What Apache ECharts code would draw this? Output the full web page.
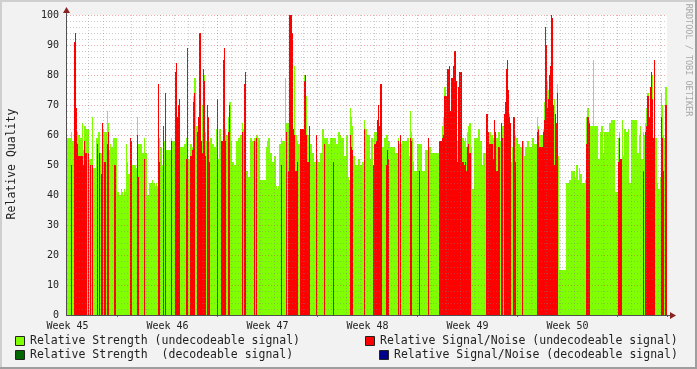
<!DOCTYPE html>
<html><head><meta charset="utf-8">
<script src="https://cdn.jsdelivr.net/npm/echarts@6/dist/echarts.min.js"></script>
<style>html,body{margin:0;padding:0;background:#f2f2f2}#c{width:697px;height:369px}</style>
</head><body><div id="c"></div>
<script>
// Week labels (one every 100 samples)
const weekLabels = ['Week 45','Week 46','Week 47','Week 48','Week 49','Week 50'];

// Relative Strength (undecodeable signal) - one value per sample
const strength = [
59,59,59,59,61,58,58,61,61,61, 61,60,60,59,59,64,55,63,63,62,
62,62,52,52,52,66,49,49,49,59, 59,61,61,54,54,62,62,61,61,61,
68,64,55,57,56,56,59,59,59,59, 41,41,40,40,42,41,40,42,41,57,
51,47,47,59,58,50,50,50,50,49, 66,57,57,57,57,54,54,59,54,54,
40,40,44,44,44,45,44,44,43,44, 43,44,59,56,56,50,50,58,58,55,
55,55,55,55,59,58,58,58,58,58, 58,58,58,56,56,56,56,57,57,59,
59,52,52,57,57,56,73,79,79,63, 63,63,63,63,58,70,70,80,61,58,
58,58,58,59,59,57,57,56,56,62, 62,52,62,62,52,52,52,52,62,60,
60,66,71,71,58,51,51,50,50,58, 58,59,59,60,60,64,62,62,62,48,
48,46,46,59,59,58,58,59,59,60, 60,59,59,45,45,45,45,45,45,56,
58,59,59,54,54,51,51,53,53,43, 42,43,57,57,59,58,58,58,79,64,
64,64,0,0,0,0,0,83,60,60, 58,57,57,57,57,0,0,80,73,73,
60,60,57,57,57,54,54,51,51,51, 52,51,51,54,54,62,62,59,59,59,
59,57,57,59,59,59,59,59,59,57, 57,61,61,60,59,59,59,53,53,60,
60,46,45,69,66,63,53,53,50,50, 50,52,52,50,50,51,51,65,62,62,
60,60,60,52,59,59,50,61,61,61, 61,61,61,61,61,56,56,59,59,60,
60,58,58,56,56,56,56,56,54,54, 54,59,57,57,57,58,58,58,58,58,
59,59,53,68,61,59,51,48,48,48, 57,57,57,57,57,48,48,48,55,55,
55,55,56,56,54,54,54,54,54,54, 54,54,0,0,0,63,66,76,76,0,
0,0,73,0,0,0,0,0,0,0, 58,0,0,0,0,59,59,58,59,56,
61,63,64,64,56,42,42,59,59,59, 59,62,62,58,58,50,54,54,54,0,
0,0,61,61,60,60,59,62,0,59, 59,61,61,58,58,63,63,0,0,0,
0,0,67,0,51,56,56,0,60,59, 59,57,57,56,56,58,58,53,56,56,
58,58,56,56,56,59,59,57,57,57, 66,63,60,60,60,60,62,71,0,0,
78,75,0,0,0,0,0,72,66,0, 77,53,15,15,15,15,15,15,15,44,
44,44,45,45,48,48,48,48,46,50, 50,45,49,47,47,44,44,44,45,66,
69,69,65,63,63,63,85,63,63,63, 63,52,52,61,63,63,54,61,61,61,
61,61,64,64,65,65,65,65,41,41, 41,59,61,0,0,65,53,62,62,61,
61,62,44,44,65,65,65,65,65,65, 54,54,60,63,52,52,61,60,64,69,
74,74,0,76,80,80,59,59,59,59, 44,42,42,46,74,70,60,59,76,76
];

// Relative Signal/Noise (undecodeable signal) - 0 means no value
const signalNoise = [
0,0,0,0,50,0,0,91,94,69, 57,53,53,53,53,53,50,58,54,54,
0,54,0,50,0,50,0,0,0,0, 57,0,54,0,47,64,0,51,51,0,
57,61,0,0,0,0,0,50,50,0, 0,0,0,0,0,0,0,0,0,0,
0,0,0,59,58,0,0,0,0,0, 60,46,0,0,0,0,0,52,0,0,
0,0,0,0,0,0,0,0,0,0, 0,77,51,0,0,0,63,0,74,0,
0,0,0,0,58,0,0,0,81,84, 66,70,72,0,0,0,0,0,0,52,
89,0,0,53,53,55,71,74,0,0, 61,66,94,94,58,54,82,78,53,0,
70,66,51,0,0,0,0,0,0,0, 72,0,0,0,58,58,85,89,58,0,
0,61,70,0,0,0,0,0,0,0, 0,0,0,0,0,61,0,77,81,0,
0,0,0,0,0,0,0,58,0,59, 0,0,0,0,0,0,0,0,0,0,
0,0,0,0,0,0,0,0,0,0, 0,0,0,0,50,0,0,0,0,61,
0,48,100,100,100,94,62,60,48,48, 51,0,0,62,62,62,62,78,80,60,
51,51,63,0,0,0,0,0,0,60, 0,0,0,0,0,0,0,57,0,0,
0,0,0,0,0,0,51,0,0,0, 0,0,0,0,0,0,0,0,0,0,
0,0,0,60,56,55,0,0,0,0, 0,0,0,0,0,0,0,62,0,0,
0,0,0,0,0,0,50,57,57,58, 65,70,63,77,77,0,0,0,0,50,
55,52,0,0,0,0,0,0,0,0, 0,58,0,60,0,0,0,0,0,0,
0,0,0,59,58,0,0,0,0,0, 0,0,48,0,0,0,0,0,0,0,
0,59,0,0,0,0,0,0,0,0, 0,0,58,58,58,59,60,73,73,73,
82,82,83,68,79,79,83,88,88,78, 51,76,81,81,81,51,51,50,51,48,
56,57,54,54,0,0,0,0,0,0, 0,0,0,0,0,0,0,0,0,67,
67,61,57,57,57,57,52,65,61,48, 48,56,56,0,64,59,0,67,71,82,
85,75,66,64,0,0,66,66,51,0, 0,0,0,0,0,58,0,0,0,0,
0,0,0,0,0,0,0,0,0,0, 61,62,56,56,56,56,61,65,96,90,
69,72,80,83,100,99,70,50,67,64, 74,0,0,0,0,0,0,0,0,0,
0,0,0,0,0,0,0,0,0,0, 0,0,0,0,0,0,0,0,0,57,
66,66,64,0,0,0,0,0,0,0, 0,0,0,0,0,0,0,0,0,0,
0,0,0,0,0,0,0,0,0,0, 0,51,59,52,52,0,0,0,0,0,
0,0,0,0,0,0,0,0,0,0, 0,0,0,0,0,0,48,0,61,63,
73,73,66,76,81,72,59,85,0,0, 0,0,0,0,66,59,48,0,70,70
];

const samplesPerWeek = 100;
const categories = strength.map((_, i) => String(i));
const dayOffsets = [0,1,2,3,4,5,6].map(k => Math.round((k + 0.5) * samplesPerWeek / 7));
const weekOffset = dayOffsets[3];
const isDay = i => dayOffsets.includes(i % samplesPerWeek) && (i % samplesPerWeek) !== weekOffset;
const isWeek = i => (i % samplesPerWeek) === weekOffset;

const FONT = 'DejaVu Sans Mono';
const GREEN = '#80ff00', RED = '#ff0000', DKGREEN = '#006600', BLUE = '#000088';
const minorCol = 'rgba(128,128,128,0.4)';
const majorCol = 'rgba(220,40,40,0.4)';

const chart = echarts.init(document.getElementById('c'), null, {renderer: 'canvas'});

const legendItems = [
  {x: 15, y: 341, color: GREEN, text: 'Relative Strength (undecodeable signal)'},
  {x: 15, y: 355, color: DKGREEN, text: 'Relative Strength  (decodeable signal)'},
  {x: 365, y: 341, color: RED, text: 'Relative Signal/Noise (undecodeable signal)'},
  {x: 379, y: 355, color: BLUE, text: 'Relative Signal/Noise (decodeable signal)'}
];
const graphics = [];
// frame
graphics.push({type:'rect', z:0, shape:{x:0,y:0,width:697,height:2}, style:{fill:'#cfcfcf'}});
graphics.push({type:'rect', z:0, shape:{x:0,y:0,width:2,height:369}, style:{fill:'#cfcfcf'}});
graphics.push({type:'rect', z:0, shape:{x:0,y:367,width:697,height:2}, style:{fill:'#9e9e9e'}});
graphics.push({type:'rect', z:0, shape:{x:695,y:0,width:2,height:369}, style:{fill:'#9e9e9e'}});
// axis lines and arrows
graphics.push({type:'line', z:50, shape:{x1:66.5,y1:315,x2:66.5,y2:11}, style:{stroke:'#505050',lineWidth:1}});
graphics.push({type:'line', z:50, shape:{x1:66,y1:315.5,x2:670,y2:315.5}, style:{stroke:'#505050',lineWidth:1}});
graphics.push({type:'polygon', z:51, shape:{points:[[66.5,7],[63,13],[70,13]]}, style:{fill:'#8b2222'}});
graphics.push({type:'polygon', z:51, shape:{points:[[676,315.5],[670,312],[670,319]]}, style:{fill:'#8b2222'}});
// y title
graphics.push({type:'text', z:50, x:12, y:164, rotation:Math.PI/2,
  style:{text:'Relative Quality', font:'11.5px ' + FONT, fill:'#222', align:'center', verticalAlign:'middle'}});
// watermark
graphics.push({type:'text', z:50, x:688, y:60, rotation:-Math.PI/2,
  style:{text:'RRDTOOL / TOBI OETIKER', font:'8.5px ' + FONT, fill:'#a8a8a8', align:'center', verticalAlign:'middle'}});
legendItems.forEach(it => {
  graphics.push({type:'rect', z:50, shape:{x:it.x + 0.5, y:it.y - 4.5, width:9, height:9},
    style:{fill:it.color, stroke:'#222', lineWidth:1}});
  graphics.push({type:'text', z:50, x:it.x + 15, y:it.y + 0.5,
    style:{text:it.text, font:'11.5px ' + FONT, fill:'#222', align:'left', verticalAlign:'middle'}});
});

chart.setOption({
  animation: false,
  backgroundColor: '#f2f2f2',
  grid: {left: 67, top: 15, width: 600, height: 300, show: true, backgroundColor: '#ffffff', borderWidth: 0},
  xAxis: [{
    type: 'category', data: categories, boundaryGap: true, z: 10,
    axisLine: {show: false}, axisTick: {show: false},
    axisLabel: {
      interval: (i) => i % samplesPerWeek === 0,
      formatter: (v, i) => weekLabels[Math.floor(i / samplesPerWeek)],
      fontFamily: FONT, fontSize: 10, color: '#222', margin: 6
    },
    splitLine: {show: true, interval: (i) => isDay(i), showMinLine: false, showMaxLine: false,
      lineStyle: {color: minorCol, type: [1, 2], width: 1}}
  }, {
    type: 'category', data: categories, boundaryGap: true, position: 'bottom', z: 11,
    axisLine: {show: false}, axisLabel: {show: false},
    axisTick: {show: true, interval: (i) => isWeek(i), length: 2, lineStyle: {color: '#d04040'}},
    splitLine: {show: true, interval: (i) => isWeek(i), showMinLine: false, showMaxLine: false,
      lineStyle: {color: majorCol, type: [1, 2], width: 1}}
  }],
  yAxis: {
    type: 'value', min: 0, max: 100, interval: 10, z: 10,
    axisLine: {show: false}, axisTick: {show: false},
    axisLabel: {fontFamily: FONT, fontSize: 10, color: '#222', margin: 8},
    splitLine: {show: true, lineStyle: {color: majorCol, type: [1, 2], width: 1}},
    minorTick: {show: false, splitNumber: 5},
    minorSplitLine: {show: true, lineStyle: {color: minorCol, type: [1, 2], width: 1}}
  },
  series: [{
    name: 'Relative Strength (undecodeable signal)', type: 'bar', xAxisIndex: 0, z: 2,
    data: strength.map(v => v > 0 ? v : '-'), barCategoryGap: '0%', barGap: '-100%',
    itemStyle: {color: GREEN}, silent: true
  }, {
    name: 'Relative Signal/Noise (undecodeable signal)', type: 'bar', xAxisIndex: 0, z: 2,
    data: signalNoise.map(v => v > 0 ? v : '-'), barCategoryGap: '0%', barGap: '-100%',
    itemStyle: {color: RED}, silent: true
  }],
  graphic: graphics
});
</script></body></html>
